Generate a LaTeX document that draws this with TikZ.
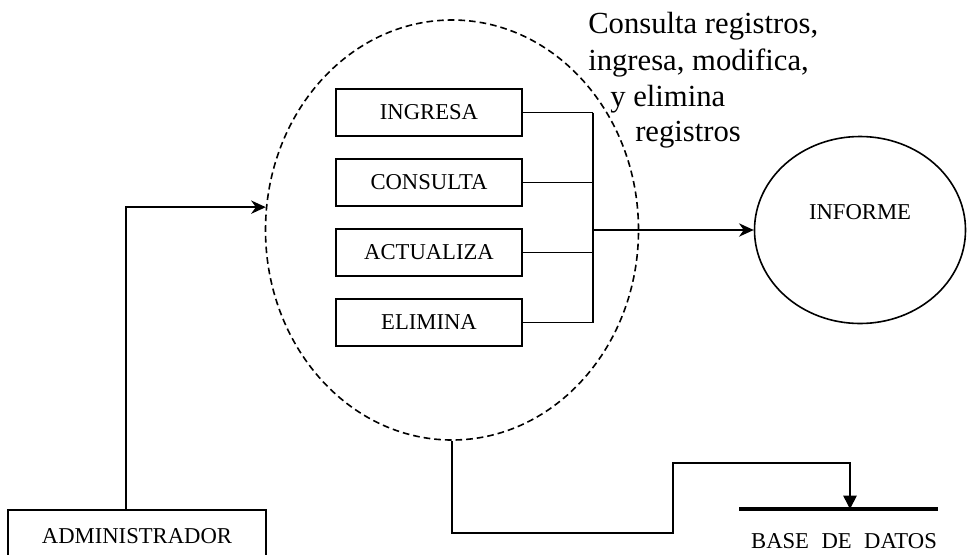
\documentclass[tikz,border=0pt]{standalone}
\usepackage{fontspec}
\setmainfont{Liberation Serif}
\usetikzlibrary{shapes.geometric,arrows.meta}
\tikzset{
  lbl/.style={font=\fontsize{17}{20}\selectfont},
  ann/.style={font=\fontsize{23}{27}\selectfont, inner sep=0pt, anchor=base west},
  opbox/.style={draw, line width=1.2pt, rectangle, minimum width=139.5pt, minimum height=35.25pt, inner sep=0pt, lbl},
  conn/.style={line width=1.2pt},
  sarr/.style={conn, -{Stealth[length=11pt,width=10pt,inset=3.5pt]}},
  tarr/.style={conn, -{Triangle[length=10pt,width=10pt]}},
}
\begin{document}
\begin{tikzpicture}[x=0.75pt,y=-0.75pt]
\clip (0,0) rectangle (969,554);
\fill[white] (0,0) rectangle (969,554);

% dashed process ellipse
\node[draw, ellipse, line width=1.2pt, dash pattern=on 5pt off 3pt,
      minimum width=279.75pt, minimum height=315pt, inner sep=0pt] (proc) at (452,230) {};

% operation boxes
\node[opbox] (b1) at (429,112.5) {INGRESA};
\node[opbox] (b2) at (429,182.5) {CONSULTA};
\node[opbox] (b3) at (429,252.5) {ACTUALIZA};
\node[opbox] (b4) at (429,322.5) {ELIMINA};

% bus
\coordinate (bus) at (593,230);
\draw[conn] (b1.east) -- (b1.east -| bus);
\draw[conn] (b2.east) -- (b2.east -| bus);
\draw[conn] (b3.east) -- (b3.east -| bus);
\draw[conn] (b4.east) -- (b4.east -| bus);
\draw[conn] (b1.east -| bus) -- (b4.east -| bus);

% informe
\node[draw, ellipse, line width=1.2pt, minimum width=158.25pt, minimum height=140.25pt,
      inner sep=0pt, label={[lbl, yshift=13.5pt]center:INFORME}] (info) at (860,230) {};
\draw[sarr] (bus) -- (info.west);

% annotation
\node[ann] (a1) at (588,33) {Consulta registros,};
\node[ann] (a2) at (588,70) {ingresa, modifica,};
\node[ann] (a3) at (610,106) {y elimina};
\node[ann] (a4) at (635,141) {registros};

% administrador
\node[draw, line width=1.2pt, rectangle, minimum width=193.5pt, minimum height=39pt,
      inner sep=0pt, lbl] (admin) at (137,536) {ADMINISTRADOR};
\draw[sarr] ([xshift=-8.25pt]admin.north) |- (proc.173);

% base de datos
\coordinate (dbl) at (739,509);
\coordinate (dbr) at (938,509);
\coordinate (dbin) at (850,509);
\draw[line width=2.6pt] (dbl) -- (dbr);
\node[lbl, inner sep=0pt] (dbtxt) at (844,541) {BASE\hspace{0.55em}DE\hspace{0.55em}DATOS};
\coordinate (k1) at (673,533);
\coordinate (k2) at (850,463);
\draw[tarr] (proc.south) |- (k1) |- (k2) -- (dbin);
\end{tikzpicture}
\end{document}
